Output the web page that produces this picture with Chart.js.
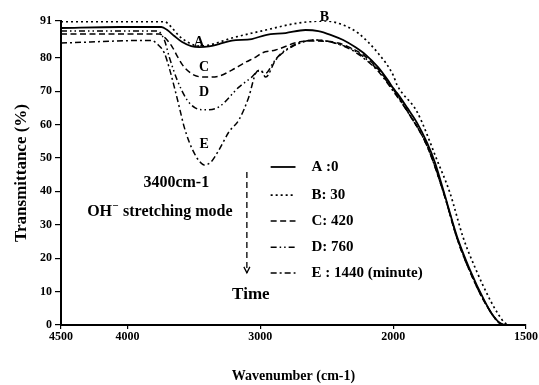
<!DOCTYPE html>
<html>
<head>
<meta charset="utf-8">
<script src="https://cdn.jsdelivr.net/npm/chart.js@4.4.1/dist/chart.umd.min.js"></script>
<style>
  html, body { margin: 0; padding: 0; background: #fff; }
  #wrap { width: 539px; height: 385px; }
</style>
</head>
<body>
<div id="wrap"><canvas id="c" width="539" height="385"></canvas></div>
<script>
// ---- data (wavenumber cm-1, transmittance %) ----
const seriesNames = ['A :0', 'B: 30', 'C: 420', 'D: 760', 'E : 1440 (minute)'];
const curveLetters = ['A', 'B', 'C', 'D', 'E'];

const wavenumberA = [4500, 4059, 3745, 3700, 3647, 3588, 3520, 3460, 3386, 3311, 3214, 3064, 2959, 2810, 2660, 2563, 2466, 2376, 2286, 2204, 2114, 2040, 2000, 1985, 1947, 1910, 1872, 1842, 1808, 1759, 1711, 1658, 1628, 1598, 1571, 1500];
const transA      = [88.9, 89.2, 89.2, 88.3, 86.5, 84.7, 83.5, 83.2, 83.4, 84.1, 85.1, 85.6, 86.8, 87.4, 88.3, 88.0, 86.8, 85.3, 83.2, 80.8, 77.2, 73.3, 70.9, 69.4, 65.0, 60.5, 54.5, 48.5, 39.5, 26.3, 16.5, 7.5, 3.3, 0.6, 0, 0];

const wavenumberB = [4500, 3722, 3670, 3610, 3535, 3460, 3386, 3214, 2959, 2712, 2511, 2376, 2264, 2114, 2000, 1985, 1910, 1835, 1786, 1737, 1688, 1635, 1605, 1579, 1556, 1500];
const transB      = [90.8, 90.8, 89.2, 86.5, 84.4, 83.5, 83.8, 85.9, 88.3, 90.4, 91.0, 89.8, 87.4, 81.4, 74.8, 71.8, 63.8, 49.4, 39.5, 26.3, 16.5, 7.5, 3.3, 0.6, 0, 0];

const wavenumberC = [4500, 3760, 3715, 3662, 3617, 3573, 3498, 3408, 3311, 3214, 3109, 3034, 2989, 2885, 2712, 2585, 2413, 2286, 2204, 2114, 2000, 1947, 1872, 1808, 1759, 1711, 1658, 1598, 1571, 1500];
const transC      = [87.1, 87.1, 85.9, 83.2, 79.9, 77.2, 74.8, 74.2, 74.5, 76.3, 78.7, 80.2, 81.4, 82.3, 84.7, 85.0, 84.4, 82.3, 80.2, 76.6, 70.6, 64.0, 53.5, 39.0, 25.8, 16.0, 7.2, 0.5, 0, 0];

const wavenumberD = [4500, 3775, 3722, 3685, 3625, 3550, 3490, 3423, 3311, 3161, 3064, 3012, 2959, 2900, 2840, 2712, 2585, 2413, 2286, 2114, 2000, 1947, 1872, 1808, 1759, 1711, 1658, 1598, 1571, 1500];
const transD      = [88.0, 88.0, 85.3, 80.2, 73.3, 67.3, 65.0, 64.4, 65.3, 71.2, 74.2, 76.0, 75.4, 78.7, 81.4, 84.4, 85.3, 84.1, 82.0, 76.3, 70.3, 64.2, 53.7, 39.2, 26.0, 16.2, 7.3, 0.5, 0, 0];

const wavenumberE = [4500, 3819, 3775, 3722, 3685, 3647, 3610, 3573, 3535, 3498, 3460, 3423, 3371, 3311, 3236, 3161, 3087, 3034, 2997, 2959, 2885, 2765, 2585, 2413, 2286, 2114, 2000, 1947, 1872, 1808, 1759, 1711, 1658, 1598, 1571, 1500];
const transE      = [84.4, 85.2, 84.1, 81.4, 76.9, 71.2, 65.3, 59.3, 54.8, 51.5, 49.1, 47.9, 48.8, 52.4, 57.8, 61.4, 68.2, 75.4, 76.3, 74.2, 79.3, 83.2, 85.3, 84.1, 81.7, 76.0, 70.0, 64.0, 53.5, 39.0, 25.8, 16.0, 7.2, 0.5, 0, 0];

const xTickLabels = [4500, 4000, 3000, 2000, 1500];
const yTickLabels = [0, 10, 20, 30, 40, 50, 60, 70, 80, 91];

// ---- x axis has a 2x scale change below 2000 cm-1 ----
function toAxis(w) { return w >= 2000 ? w : 2000 - 2 * (2000 - w); }
function fromAxis(u) { return u >= 2000 ? u : 2000 - (2000 - u) / 2; }

function pts(ws, ts) { return ws.map((w, i) => ({ x: toAxis(w), y: ts[i] })); }

const dashes = [[], [2, 3], [6, 3.5], [6, 3, 1.5, 3, 1.5, 3], [6, 3, 2, 3]];
const widths = [1.8, 1.7, 1.5, 1.5, 1.5];
const allW = [wavenumberA, wavenumberB, wavenumberC, wavenumberD, wavenumberE];
const allT = [transA, transB, transC, transD, transE];

const datasets = allW.map((w, i) => ({
  label: seriesNames[i],
  data: pts(w, allT[i]),
  borderColor: '#000',
  borderWidth: widths[i],
  borderDash: dashes[i],
  pointRadius: 0,
  fill: false,
  cubicInterpolationMode: 'monotone'
}));

// annotation positions in data units (wavenumber, transmittance)
const annot = {
  letters: [[3460, 84.6], [2518, 92.2], [3423, 77.0], [3423, 69.5], [3423, 54.0]],
  band: [3632, 42.5],
  mode: [3756, 33.8],
  arrowX: 3101, arrowTop: 45.8, arrowBottom: 15.6,
  time: [3071, 9.0],
  legendX1: 2922, legendX2: 2735, legendTextX: 2615,
  legendY: [47.3, 38.9, 31.1, 23.3, 15.6]
};

const SERIF = '"Liberation Serif", "DejaVu Serif", serif';

const annotationPlugin = {
  id: 'annot',
  afterDatasetsDraw(chart) {
    const ctx = chart.ctx;
    const xs = chart.scales.x, ys = chart.scales.y;
    const px = w => xs.getPixelForValue(toAxis(w));
    const py = v => ys.getPixelForValue(v);
    ctx.save();
    ctx.fillStyle = '#000';
    ctx.strokeStyle = '#000';
    ctx.textBaseline = 'middle';
    ctx.textAlign = 'center';
    // curve letters
    ctx.font = 'bold 14px ' + SERIF;
    annot.letters.forEach((p, i) => ctx.fillText(curveLetters[i], px(p[0]), py(p[1])));
    // band text
    ctx.font = 'bold 16px ' + SERIF;
    ctx.fillText('3400cm-1', px(annot.band[0]), py(annot.band[1]));
    // OH- stretching mode
    const mx = px(annot.mode[0]), my = py(annot.mode[1]);
    const t1 = 'OH', t2 = ' stretching mode';
    const w1 = ctx.measureText(t1).width, wsup = 7, w2 = ctx.measureText(t2).width;
    const total = w1 + wsup + w2;
    let sx = mx - total / 2;
    ctx.textAlign = 'left';
    ctx.fillText(t1, sx, my);
    ctx.font = 'bold 10px ' + SERIF;
    ctx.fillText('\u2013', sx + w1 + 1, my - 7);
    ctx.font = 'bold 16px ' + SERIF;
    ctx.fillText(t2, sx + w1 + wsup, my);
    // dashed arrow
    const ax = px(annot.arrowX), aT = py(annot.arrowTop), aB = py(annot.arrowBottom);
    ctx.lineWidth = 1.3;
    ctx.setLineDash([6, 4]);
    ctx.beginPath(); ctx.moveTo(ax, aT); ctx.lineTo(ax, aB); ctx.stroke();
    ctx.setLineDash([]);
    ctx.beginPath(); ctx.moveTo(ax - 3, aB - 6); ctx.lineTo(ax, aB); ctx.lineTo(ax + 3, aB - 6); ctx.stroke();
    // Time
    ctx.textAlign = 'center';
    ctx.font = 'bold 17px ' + SERIF;
    ctx.fillText('Time', px(annot.time[0]), py(annot.time[1]));
    // legend
    const lx1 = px(annot.legendX1), lx2 = px(annot.legendX2), tx = px(annot.legendTextX);
    ctx.font = 'bold 15px ' + SERIF;
    ctx.textAlign = 'left';
    chart.data.datasets.forEach((ds, i) => {
      const y = py(annot.legendY[i]);
      ctx.lineWidth = ds.borderWidth;
      ctx.setLineDash(ds.borderDash);
      ctx.beginPath(); ctx.moveTo(lx1, y); ctx.lineTo(lx2, y); ctx.stroke();
      ctx.setLineDash([]);
      ctx.fillText(ds.label, tx, y);
    });
    ctx.restore();
  }
};

new Chart(document.getElementById('c'), {
  type: 'line',
  data: { datasets },
  options: {
    responsive: false,
    animation: false,
    layout: { autoPadding: false, padding: { left: 0, right: 10, top: 21, bottom: 0 } },
    plugins: { legend: { display: false }, tooltip: { enabled: false } },
    scales: {
      x: {
        type: 'linear',
        reverse: true,
        min: toAxis(1500),
        max: 4500,
        afterFit(s) { s.height = 60; },
        afterBuildTicks(s) { s.ticks = xTickLabels.map(v => ({ value: toAxis(v) })); },
        ticks: {
          color: '#000',
          font: { family: SERIF, weight: 'bold', size: 12 },
          padding: 1,
          maxRotation: 0,
          autoSkip: false,
          callback: v => String(Math.round(fromAxis(v)))
        },
        grid: { display: true, drawOnChartArea: false, drawTicks: true, tickLength: 4, color: '#000', lineWidth: 1.2 },
        border: { display: true, color: '#000', width: 2 },
        title: { display: true, text: 'Wavenumber (cm-1)', color: '#000', font: { family: SERIF, weight: 'bold', size: 14 }, padding: { top: 0, bottom: 0 } }
      },
      y: {
        type: 'linear',
        min: 0,
        max: 91,
        afterFit(s) { s.width = 61; },
        afterBuildTicks(s) { s.ticks = yTickLabels.map(v => ({ value: v })); },
        ticks: {
          color: '#000',
          font: { family: SERIF, weight: 'bold', size: 12 },
          padding: 3,
          autoSkip: false
        },
        grid: { display: true, drawOnChartArea: false, drawTicks: true, tickLength: 6, color: '#000', lineWidth: 1.2 },
        border: { display: true, color: '#000', width: 2 },
        title: { display: true, text: 'Transmittance (%)', color: '#000', font: { family: SERIF, weight: 'bold', size: 17 }, padding: { top: 11, bottom: 0 } }
      }
    }
  },
  plugins: [annotationPlugin]
});
</script>
</body>
</html>
